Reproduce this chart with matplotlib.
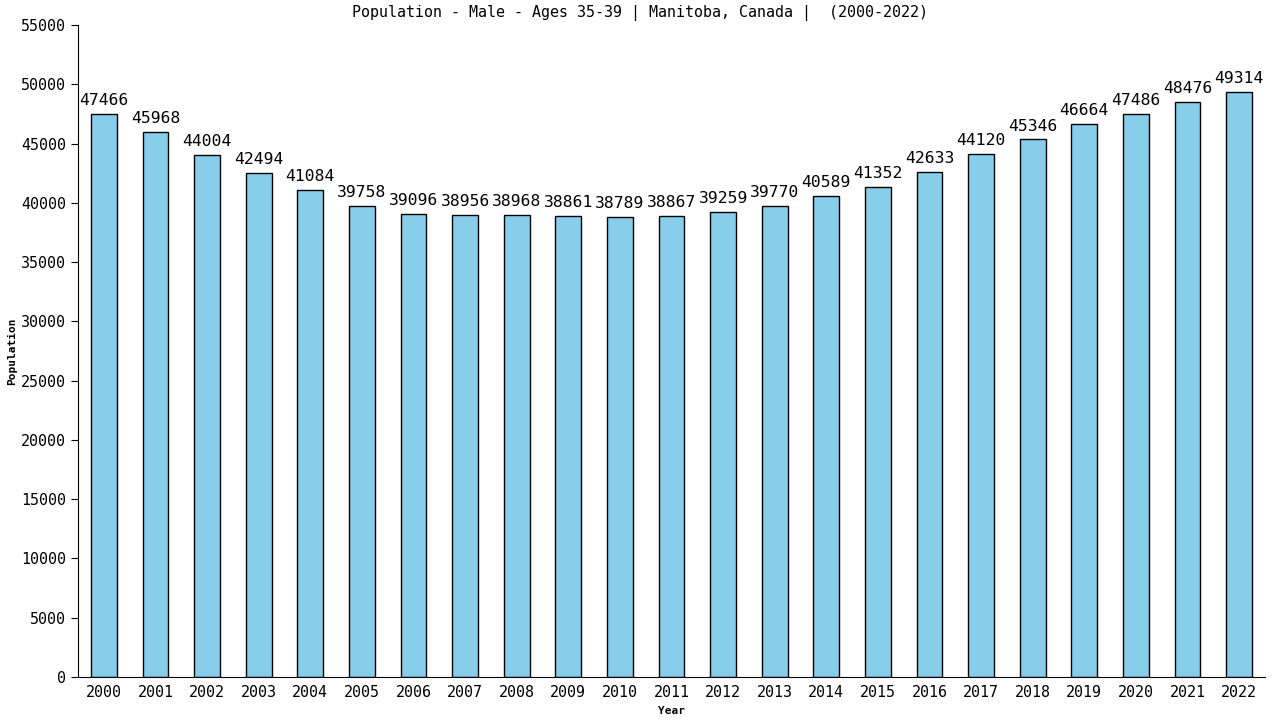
import matplotlib
matplotlib.use('Agg')
import matplotlib.pyplot as plt

years = list(range(2000, 2023))
population = [47466, 45968, 44004, 42494, 41084, 39758, 39096, 38956, 38968, 38861,
              38789, 38867, 39259, 39770, 40589, 41352, 42633, 44120, 45346, 46664,
              47486, 48476, 49314]

plt.rcParams['font.family'] = 'DejaVu Sans Mono'

fig = plt.figure(figsize=(12.8, 7.2), dpi=100)
ax = fig.add_axes([78 / 1280, 43 / 720, (1265 - 78) / 1280, (677 - 25) / 720])

x = list(range(len(years)))
ax.bar(x, population, width=0.5, color='#87CEEB', edgecolor='black', linewidth=1)
for xi, v in zip(x, population):
    ax.text(xi, v + 500, str(v), ha='center', va='bottom', fontsize=11.8)

ax.set_xlim(-0.5, len(years) - 0.5)
ax.set_ylim(0, 55000)
ax.set_yticks(range(0, 55001, 5000))
ax.set_xticks(x)
ax.set_xticklabels([str(y) for y in years])
ax.tick_params(axis='y', labelsize=10.8, length=5)
ax.tick_params(axis='x', labelsize=10.8, length=0, pad=6)
for s in ['top', 'right']:
    ax.spines[s].set_visible(False)

fig.text(0.5, 1 - 13 / 720, 'Population - Male - Ages 35-39 | Manitoba, Canada |  (2000-2022)',
         ha='center', va='center', fontsize=10.8)
ax.set_xlabel('Year', fontsize=8, fontweight='bold', labelpad=4)
ax.set_ylabel('Population', fontsize=8, fontweight='bold', labelpad=3)

fig.savefig('out.png', dpi=100)
